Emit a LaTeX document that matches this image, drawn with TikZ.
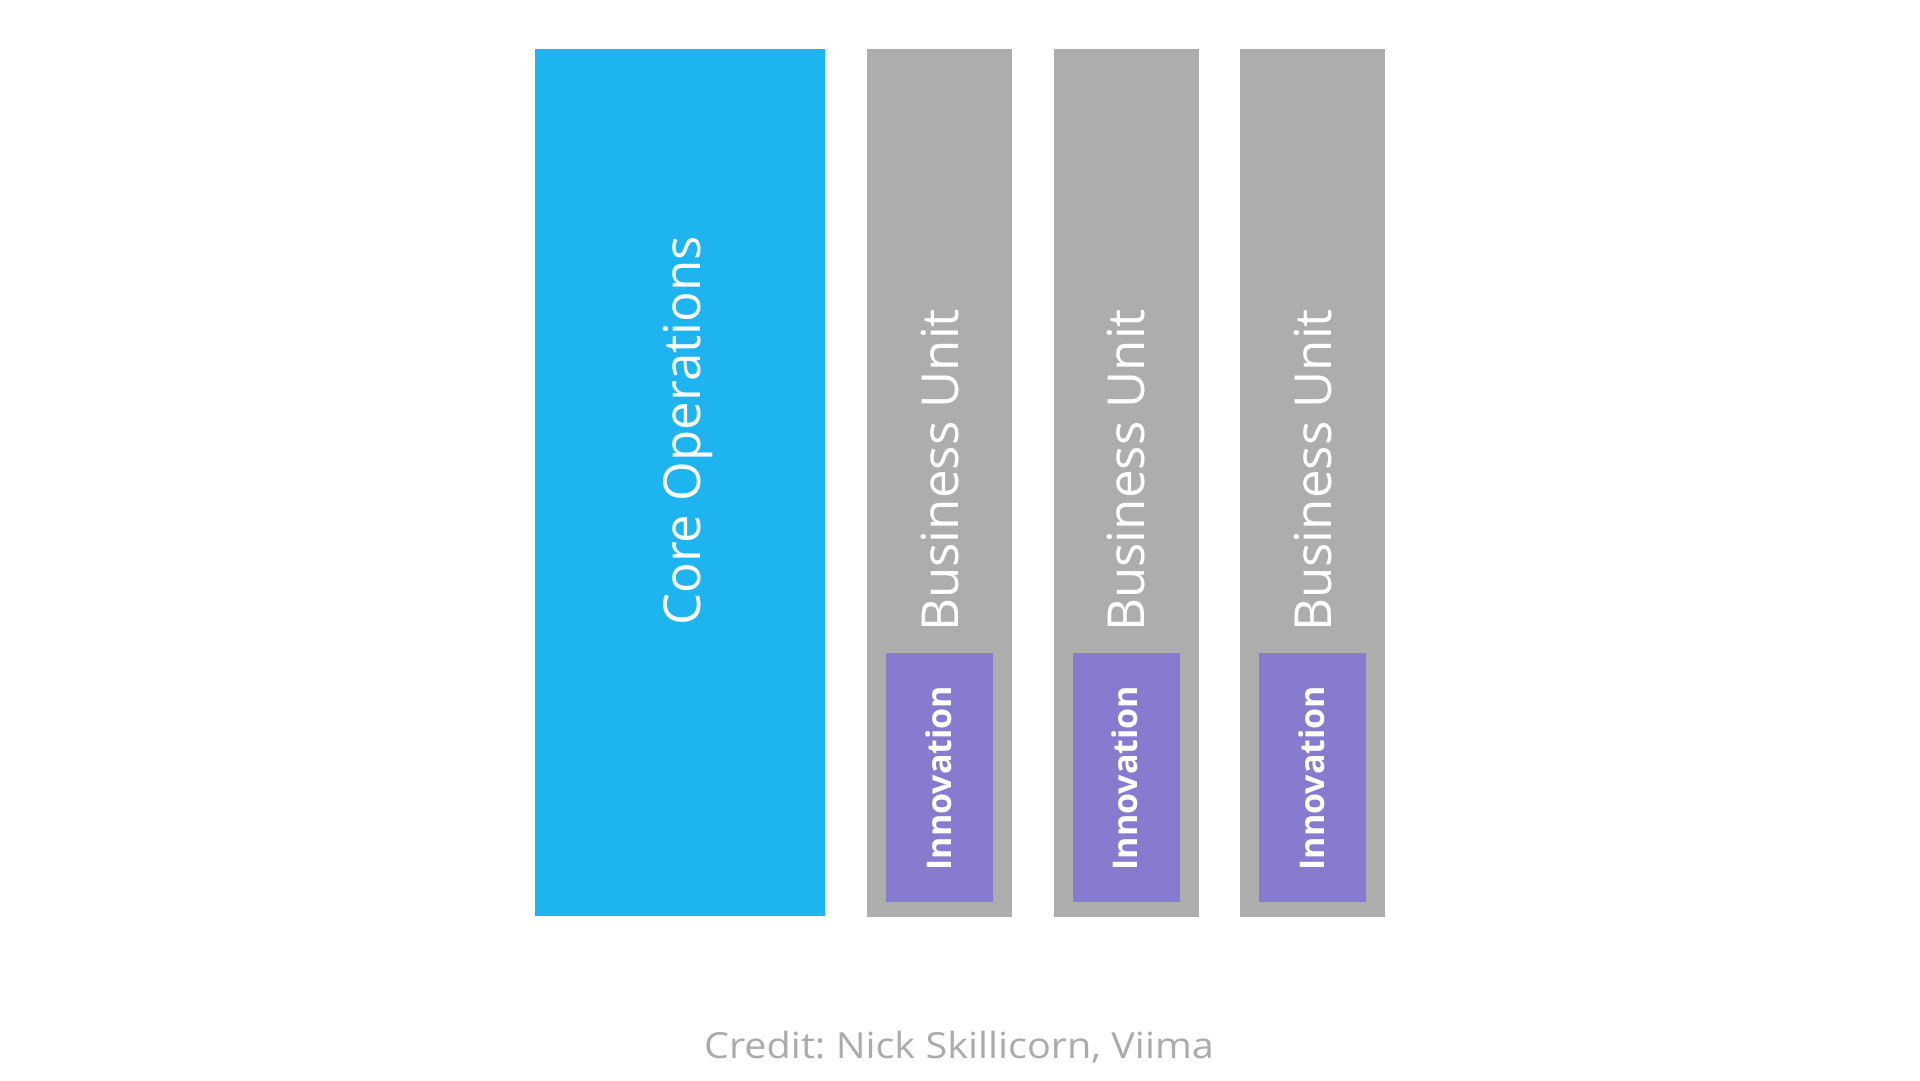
\documentclass[tikz,border=0pt]{standalone}
\usepackage{fontspec}
\setmainfont{Open Sans}
\frenchspacing
\definecolor{coreblue}{HTML}{1DB4F0}
\definecolor{unitgray}{HTML}{ADADAD}
\definecolor{innopurple}{HTML}{877BCF}
\definecolor{creditgray}{HTML}{ABABAB}
\tikzset{
  box/.style={draw=none, inner sep=0pt, outer sep=0pt, anchor=north west},
  corebox/.style={box, fill=coreblue, minimum width=290pt, minimum height=867pt},
  unitbox/.style={box, fill=unitgray, minimum width=145pt, minimum height=868pt},
  innobox/.style={box, fill=innopurple, minimum width=107pt, minimum height=249pt},
  coretext/.style={text=white, inner sep=0pt, rotate=90, anchor=base, font=\fontsize{51}{58}\selectfont},
  unittext/.style={text=white, inner sep=0pt, rotate=90, anchor=base west, font=\fontsize{51}{58}\selectfont},
  innotext/.style={text=white, inner sep=0pt, rotate=90, anchor=base, font=\bfseries\fontsize{34}{40}\selectfont},
  credittext/.style={text=creditgray, inner sep=0pt, anchor=base, font=\fontsize{36}{42}\selectfont}
}
\begin{document}
\begin{tikzpicture}[x=1pt,y=-1pt]
\useasboundingbox[fill=white] (0,0) rectangle (1920,1080);
\node[corebox] (core) at (535,49) {};
\node[unitbox] (u1) at (867,49) {};
\node[unitbox] (u2) at (1053.5,49) {};
\node[unitbox] (u3) at (1240,49) {};
\node[innobox] (i1) at (886,653) {};
\node[innobox] (i2) at (1072.5,653) {};
\node[innobox] (i3) at (1259,653) {};
\node[coretext] (coret) at (700,431) {Core Operations};
\node[unittext] (u1t) at (958,632) {Business Unit};
\node[unittext] (u2t) at (1144.5,632) {Business Unit};
\node[unittext] (u3t) at (1331,632) {Business Unit};
\node[innotext] (i1t) at (951,778) {Innovation};
\node[innotext] (i2t) at (1137.5,778) {Innovation};
\node[innotext] (i3t) at (1324,778) {Innovation};
\node[credittext] (credit) at (959,1058) {\scalebox{1.10}[1]{Credit: Nick Skillicorn, Viima}};
\end{tikzpicture}
\end{document}
